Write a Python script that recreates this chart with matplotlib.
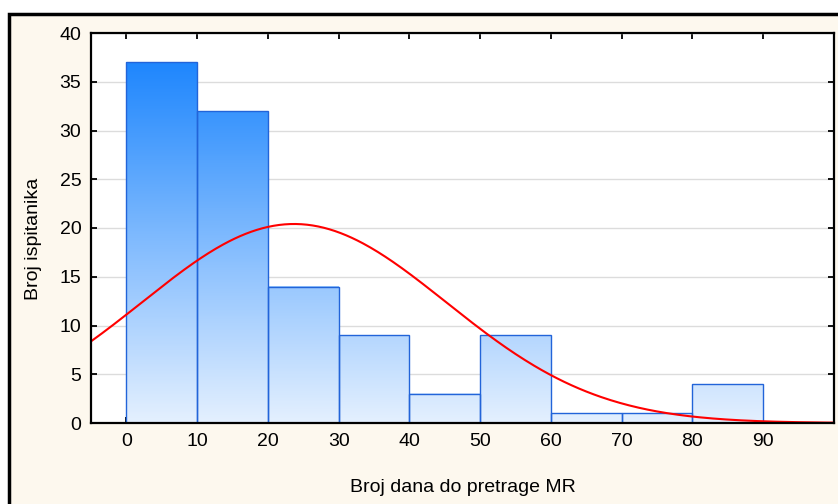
import numpy as np
import matplotlib
matplotlib.use("Agg")
import matplotlib.pyplot as plt
from matplotlib.colors import LinearSegmentedColormap
from matplotlib.patches import Rectangle

# histogram data (bins of 10 days)
bin_edges = [-10, 0, 10, 20, 30, 40, 50, 60, 70, 80, 90]
counts = [0, 37, 32, 14, 9, 3, 9, 1, 1, 4]
# normal fit parameters
fit_mean = 23.7
fit_sd = 21.5
n_total = sum(counts)

x_ticks = [0, 10, 20, 30, 40, 50, 60, 70, 80, 90]
y_ticks = [0, 5, 10, 15, 20, 25, 30, 35, 40]

plt.rcParams['font.family'] = ['Liberation Sans', 'DejaVu Sans']

W, H = 838, 504
fig = plt.figure(figsize=(W / 100, H / 100), dpi=100)
fig.patch.set_facecolor('white')
# cream panel with black frame
fig.patches.append(Rectangle((9 / W, -0.1), 1.2, 0.1 + 1 - 14 / H,
                             transform=fig.transFigure, facecolor='#fdf8ee',
                             edgecolor='black', linewidth=2.5, zorder=-1))

ax = fig.add_axes([91 / W, 81 / H, 743 / W, 390 / H])
ax.set_zorder(1)
ax.set_facecolor('white')

cmap = LinearSegmentedColormap.from_list('blu', ['#e4f0ff', '#0f7efd'])
ymax = 40.0
for i, c in enumerate(counts):
    x0, x1 = bin_edges[i], bin_edges[i + 1]
    if c > 0:
        grad = np.linspace(0, c / ymax, 200).reshape(-1, 1)
        ax.imshow(grad, cmap=cmap, vmin=0, vmax=1, origin='lower',
                  extent=[x0, x1, 0, c], aspect='auto', zorder=2,
                  interpolation='bilinear')
    ax.add_patch(Rectangle((x0, 0), x1 - x0, c, facecolor='none',
                           edgecolor='#2264d9', linewidth=1.0, zorder=3))

xs = np.linspace(-5, 100, 400)
ys = n_total * 10 / (fit_sd * np.sqrt(2 * np.pi)) * np.exp(-0.5 * ((xs - fit_mean) / fit_sd) ** 2)
ax.plot(xs, ys, color='#ff0000', linewidth=1.5, zorder=4)

ax.set_xlim(-5, 100)
ax.set_ylim(0, 40)
ax.set_xticks(x_ticks)
ax.set_yticks(y_ticks)
ax.yaxis.grid(True, color='#dcdcdc', linewidth=1.0, zorder=1)
ax.set_axisbelow(True)
ax.tick_params(direction='in', length=4, width=1.3, top=True, right=True,
               labelsize=14, pad=7, colors='black')
for s in ax.spines.values():
    s.set_linewidth(1.6)
    s.set_zorder(5)

fig.text(463 / W, 1 - 488 / H, 'Broj dana do pretrage MR', fontsize=14,
         ha='center', va='center')
fig.text(33 / W, 1 - 239 / H, 'Broj ispitanika', fontsize=14,
         ha='center', va='center', rotation=90)

fig.savefig('out.png', dpi=100)
